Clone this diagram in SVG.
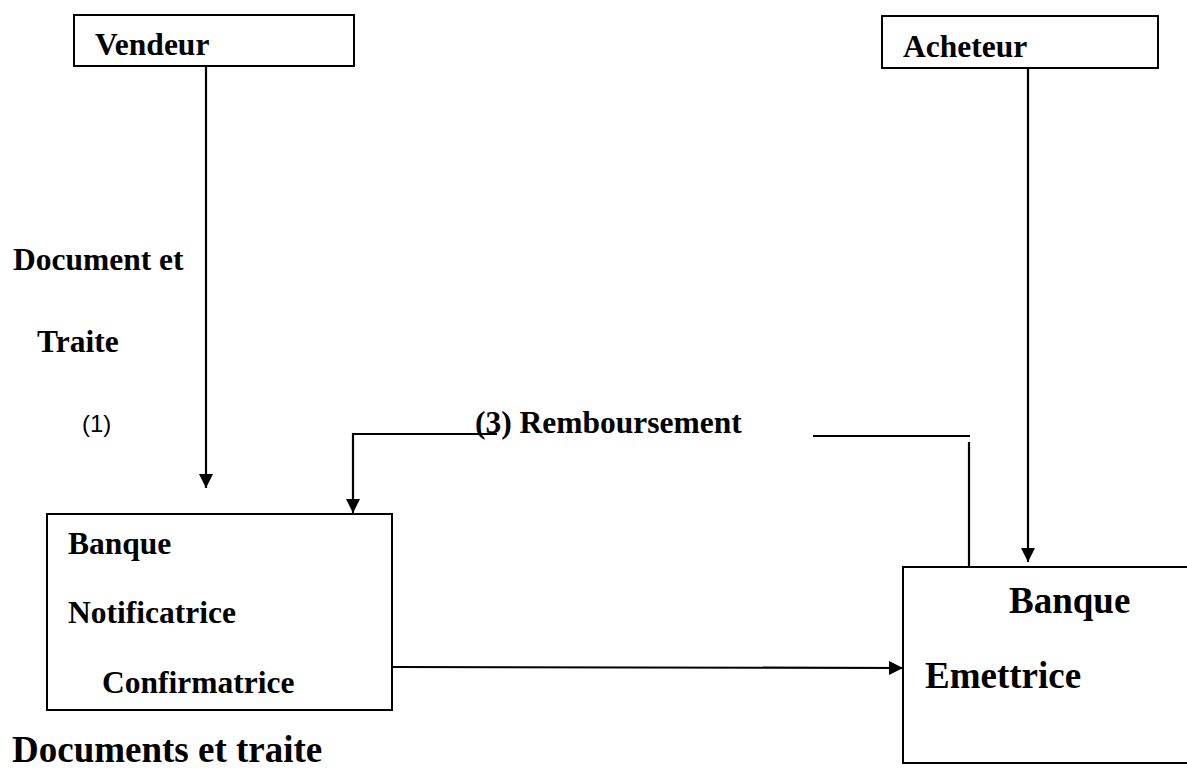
<svg xmlns="http://www.w3.org/2000/svg" width="1187" height="769" viewBox="0 0 1187 769">
  <style>
    .box { fill: #ffffff; stroke: #000000; stroke-width: 2; }
    .lbl { font-family: "Liberation Serif", "Times New Roman", serif; font-weight: bold; font-size: 31.5px; fill: #000000; }
    .big { font-size: 37px; }
    .num { font-family: "Liberation Sans", Arial, sans-serif; font-weight: normal; font-size: 24px; fill: #000000; }
    .wire { fill: none; stroke: #000000; stroke-width: 2.2; }
  </style>
  <defs>
    <marker id="arrow" viewBox="0 0 14 14" markerWidth="14" markerHeight="14" refX="14" refY="7" orient="auto" markerUnits="userSpaceOnUse">
      <path d="M0,0 L14,7 L0,14 Z" fill="#000000"/>
    </marker>
  </defs>
  <rect width="1187" height="769" fill="#ffffff"/>

  <!-- connectors -->
  <g id="connectors">
    <!-- Vendeur down to the notifying bank -->
    <line class="wire" x1="206" y1="66" x2="206" y2="488" marker-end="url(#arrow)"/>
    <!-- Acheteur down to the issuing bank -->
    <line class="wire" x1="1028" y1="68" x2="1028" y2="562" marker-end="url(#arrow)"/>
    <!-- reimbursement: left leg with arrow into the notifying bank -->
    <polyline class="wire" points="497,434 353,434 353,513" marker-end="url(#arrow)"/>
    <!-- reimbursement: right leg rising from the issuing bank -->
    <line class="wire" x1="813" y1="436" x2="970" y2="436"/>
    <line class="wire" x1="969" y1="442" x2="969" y2="567"/>
    <!-- documents and draft sent to the issuing bank -->
    <line class="wire" x1="392" y1="667" x2="903" y2="668" marker-end="url(#arrow)"/>
  </g>

  <g id="vendeur">
    <rect class="box" x="74" y="15" width="280" height="51"/>
    <text class="lbl" x="95" y="55">Vendeur</text>
  </g>

  <g id="acheteur">
    <rect class="box" x="882" y="16" width="276" height="52"/>
    <text class="lbl" x="903" y="57">Acheteur</text>
  </g>

  <g id="banque-notificatrice">
    <rect class="box" x="47" y="514" width="345" height="196"/>
    <text class="lbl" x="68" y="554">Banque</text>
    <text class="lbl" x="68" y="623">Notificatrice</text>
    <text class="lbl" x="102" y="693">Confirmatrice</text>
  </g>

  <g id="banque-emettrice">
    <rect class="box" x="903" y="567" width="300" height="196"/>
    <text class="lbl big" x="1009" y="613">Banque</text>
    <text class="lbl big" x="925" y="688">Emettrice</text>
  </g>

  <g id="labels">
    <text class="lbl" x="13" y="270">Document et</text>
    <text class="lbl" x="37" y="352">Traite</text>
    <text class="num" x="82" y="432">(1)</text>
    <text class="lbl" x="475" y="433">(3) Remboursement</text>
    <text class="lbl big" x="12" y="762">Documents et traite</text>
  </g>
</svg>
